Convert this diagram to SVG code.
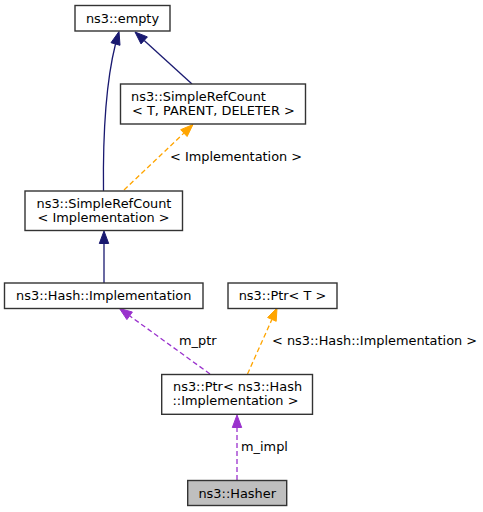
<svg xmlns="http://www.w3.org/2000/svg" width="483" height="512" viewBox="0 0 483 512">
<style>
text{font-family:"DejaVu Sans","Liberation Sans",sans-serif;font-size:12.9px;fill:#000}
.box{fill:#fff;stroke:#333;stroke-width:1.4}
.c{text-anchor:middle}
.navy{stroke:#191970;stroke-width:1.3;fill:none}
.navyh{fill:#191970;stroke:#191970}
.org{stroke:#ffa500;stroke-width:1.3;fill:none;stroke-dasharray:5,3}
.orgh{fill:#ffa500;stroke:#ffa500}
.pur{stroke:#9a32cd;stroke-width:1.3;fill:none;stroke-dasharray:5,3}
.purh{fill:#9a32cd;stroke:#9a32cd}
</style>
<rect width="483" height="512" fill="#fff"/>
<g id="connectors">
<path class="navy" d="M103.5,191 C103,150 104,90 115.5,44"/>
<polygon class="navyh" points="119,31.5 120,45.3 111,42.7"/>
<path class="navy" d="M192,84 L144.2,40.4"/>
<polygon class="navyh" points="135,32 147.4,36.9 141,43.9"/>
<path class="org" d="M124,190 L183.9,133.1"/>
<polygon class="orgh" points="193,124.5 187.1,136.5 180.7,129.7"/>
<text x="170" y="161">&lt; Implementation &gt;</text>
<path class="navy" d="M104,283 L104,243.5"/>
<polygon class="navyh" points="104,231 108.7,243.5 99.3,243.5"/>
<path class="pur" d="M210,374 L129.6,315.8"/>
<polygon class="purh" points="119.5,308.5 132.4,312 126.9,319.6"/>
<text x="179" y="345">m_ptr</text>
<path class="org" d="M247.5,374 L271.9,319.4"/>
<polygon class="orgh" points="277,308 276.2,321.3 267.6,317.5"/>
<text x="272" y="345">&lt; ns3::Hash::Implementation &gt;</text>
<path class="pur" d="M237,480 L237,427.5"/>
<polygon class="purh" points="237,415 241.7,427.5 232.3,427.5"/>
<text x="241" y="451">m_impl</text>
</g>
<g id="node-empty">
<rect class="box" x="75" y="5.5" width="95" height="25.5"/>
<text class="c" x="122.5" y="22.5">ns3::empty</text>
</g>
<g id="node-simplerefcount-t">
<rect class="box" x="120.5" y="84" width="185" height="40"/>
<text x="131" y="101">ns3::SimpleRefCount</text>
<text x="132" y="115">&lt; T, PARENT, DELETER &gt;</text>
</g>
<g id="node-simplerefcount-impl">
<rect class="box" x="25" y="191" width="157.5" height="39.5"/>
<text x="36.5" y="207.5">ns3::SimpleRefCount</text>
<text x="37.5" y="221.5">&lt; Implementation &gt;</text>
</g>
<g id="node-hash-implementation">
<rect class="box" x="4.5" y="283" width="198.5" height="25.5"/>
<text class="c" x="103.7" y="300">ns3::Hash::Implementation</text>
</g>
<g id="node-ptr-t">
<rect class="box" x="228" y="283" width="109" height="25.5"/>
<text class="c" x="282.5" y="300">ns3::Ptr&lt; T &gt;</text>
</g>
<g id="node-ptr-hash-impl">
<rect class="box" x="161.7" y="374.5" width="150.8" height="39.8"/>
<text x="173" y="391">ns3::Ptr&lt; ns3::Hash</text>
<text x="172.5" y="404.5">::Implementation &gt;</text>
</g>
<g id="node-hasher">
<rect class="box" x="187.7" y="480.5" width="99" height="25" style="fill:#bfbfbf"/>
<text class="c" x="237.2" y="497.5">ns3::Hasher</text>
</g>
</svg>
